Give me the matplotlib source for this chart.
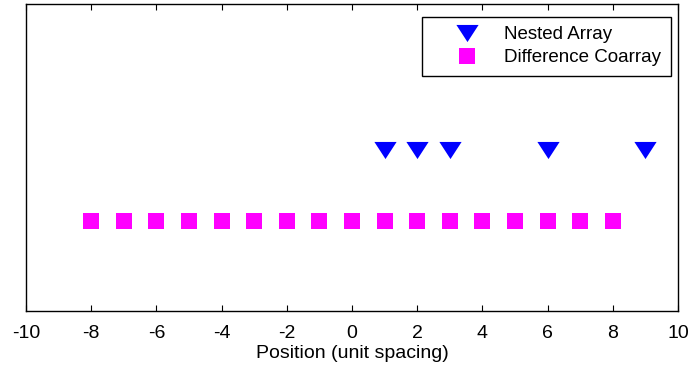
import matplotlib
matplotlib.use("Agg")
import matplotlib.pyplot as plt

nested_pos = [1, 2, 3, 6, 9]
coarray_pos = [-8, -7, -6, -5, -4, -3, -2, -1, 0, 1, 2, 3, 4, 5, 6, 7, 8]
nested_level = 1
coarray_level = 0
xticks = [-10, -8, -6, -4, -2, 0, 2, 4, 6, 8, 10]

plt.rcParams['font.family'] = ['Liberation Sans', 'DejaVu Sans']

fig = plt.figure(figsize=(6.89, 3.70), dpi=100)
ax = fig.add_axes([26/689, 59/370, 652/689, 307/370])

tri = [(-1, 0.77), (1, 0.77), (0, -0.77), (-1, 0.77)]
ax.plot(nested_pos, [nested_level]*len(nested_pos), linestyle='none',
        marker=tri, markersize=16, color='#0000ff', markeredgewidth=0,
        label='Nested Array')
ax.plot(coarray_pos, [coarray_level]*len(coarray_pos), linestyle='none',
        marker='s', markersize=12, color='#ff00ff', markeredgewidth=0,
        label='Difference Coarray')

ax.set_xlim(-10, 10)
ax.set_ylim(-1.27, 3.06)
ax.set_xticks(xticks)
ax.set_xticklabels([str(t) for t in xticks])
ax.set_yticks([])
ax.tick_params(axis='x', direction='in', top=True, bottom=True, length=4,
               width=0.8, labelsize=14, pad=10)
for s in ax.spines.values():
    s.set_linewidth(1.0)
ax.set_xlabel('Position (unit spacing)', fontsize=14, labelpad=2)

leg = ax.legend(loc='upper right', bbox_to_anchor=(0.989, 0.958),
                borderaxespad=0, fancybox=False, edgecolor='black',
                fontsize=13.5, framealpha=1, handlelength=3.8,
                handletextpad=0.1, borderpad=0.5, labelspacing=0.3)
leg.get_frame().set_linewidth(1.0)

fig.savefig('out.png', dpi=100)
